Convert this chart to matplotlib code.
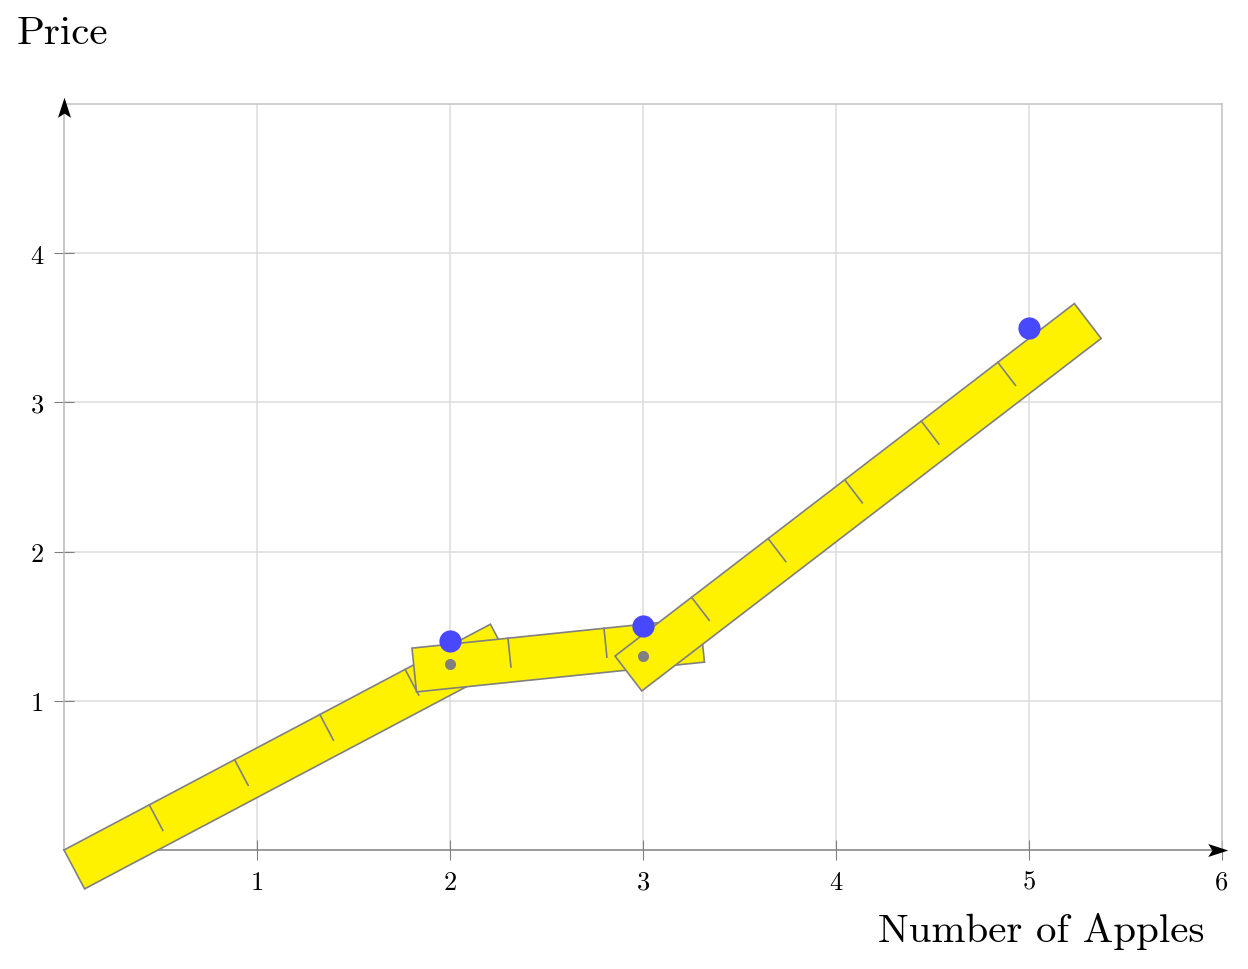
import numpy as np
import matplotlib
matplotlib.use("Agg")
import matplotlib.pyplot as plt
from matplotlib.patches import Polygon
from matplotlib.path import Path

plt.rcParams['font.family'] = 'cmr10'
plt.rcParams['axes.formatter.use_mathtext'] = True

# measured points
blue_x = [2, 3, 5]
blue_y = [1.4, 1.5, 3.5]
grey_x = [2, 3]
grey_y = [1.25, 1.3]

# rulers: top-left corner (data), screen angle (deg), length in ruler units
ruler_x0 = [0.0, 1.803, 2.855]
ruler_y0 = [0.0, 1.353, 1.30]
ruler_angle = [27.9, 5.9, 37.5]
ruler_len = [5, 3, 6]

xticks = [1, 2, 3, 4, 5, 6]
yticks = [1, 2, 3, 4]

W, H = 1248, 970
fig = plt.figure(figsize=(W / 100, H / 100), dpi=100)
ax = fig.add_axes([64 / W, 1 - 851 / H, (1222 - 64) / W, (851 - 105) / H])
ax.set_xlim(0, 6)
ax.set_ylim(0, 5)

ax.set_xticks(xticks)
ax.set_yticks(yticks)
ax.set_xticklabels([str(v) for v in xticks])
ax.set_yticklabels([str(v) for v in yticks])
ax.tick_params(direction='inout', length=15, width=0.8, color='#808080',
               labelsize=19, pad=7)
ax.grid(True, color='#dcdcdc', lw=1.1, zorder=0)
ax.set_axisbelow(True)

ax.spines['left'].set_color('#b8b8b8')
ax.spines['bottom'].set_color('#808080')
ax.spines['top'].set_color('#c4c4c4')
ax.spines['right'].set_color('#c4c4c4')
for s in ax.spines.values():
    s.set_linewidth(1.1)

# stealth-like arrow heads
def arrow_marker(rot):
    pts = np.array([[1, 0], [-0.7, 0.55], [-0.35, 0], [-0.7, -0.55], [1, 0]])
    c, s = np.cos(np.radians(rot)), np.sin(np.radians(rot))
    pts = pts @ np.array([[c, s], [-s, c]])
    return Path(pts, [Path.MOVETO] + [Path.LINETO] * 3 + [Path.CLOSEPOLY])

ax.plot([0.995], [0], marker=arrow_marker(0), color='k', ms=17, mew=0,
        transform=ax.transAxes, clip_on=False, zorder=20)
ax.plot([0], [0.993], marker=arrow_marker(90), color='k', ms=17, mew=0,
        transform=ax.transAxes, clip_on=False, zorder=20)

# rulers, built in screen space so they stay rectangular
fig.canvas.draw()
tr = ax.transData
inv = tr.inverted()
unit = (tr.transform((1, 0)) - tr.transform((0, 0)))[0] * 0.5
width = unit * 0.456
tick = unit * 0.30

for i, (x0, y0, ang, n) in enumerate(zip(ruler_x0, ruler_y0, ruler_angle, ruler_len)):
    a = np.radians(ang)
    d = np.array([np.cos(a), np.sin(a)])
    nrm = np.array([np.sin(a), -np.cos(a)])
    p0 = tr.transform((x0, y0))
    corners = np.array([p0, p0 + n * unit * d,
                        p0 + n * unit * d + width * nrm, p0 + width * nrm])
    z = 3 + i
    ax.add_patch(Polygon(inv.transform(corners), closed=True, facecolor='#fff200',
                         edgecolor='#808080', lw=1.2, zorder=z, clip_on=False))
    for k in range(1, n):
        s = p0 + k * unit * d
        e = s + tick * nrm
        seg = inv.transform(np.array([s, e]))
        ax.plot(seg[:, 0], seg[:, 1], color='#808080', lw=1.2, zorder=z + 0.1,
                clip_on=False)

ax.plot(grey_x, grey_y, 'o', color='#808080', ms=8, mec='none', zorder=10)
ax.plot(blue_x, blue_y, 'o', color='#4848ff', ms=16, mec='none', zorder=11)

fig.text(17 / W, 1 - 34 / H, 'Price', fontsize=29.5, va='center', ha='left')
fig.text(1205 / W, 1 - 932 / H, 'Number of Apples', fontsize=29.5,
         va='center', ha='right')

fig.savefig('out.png', dpi=100)
